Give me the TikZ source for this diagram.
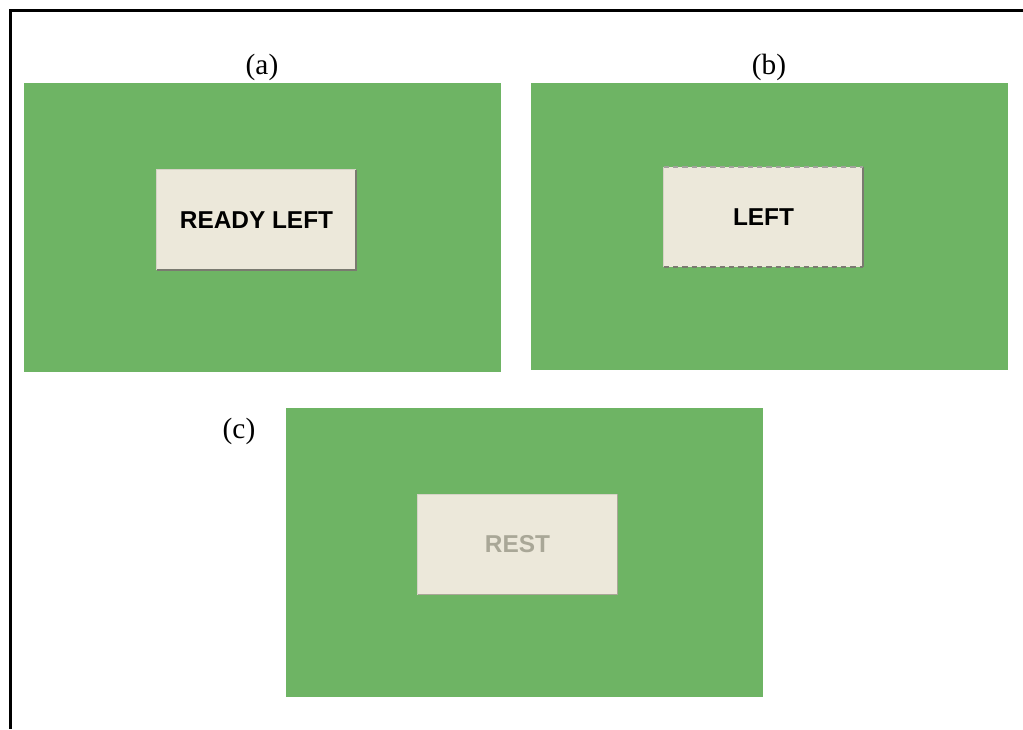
\documentclass[tikz,border=0pt]{standalone}
\usepackage{fontspec}
\setmainfont{Liberation Serif}
\newfontfamily\btnfont{Liberation Sans}
\definecolor{panelgreen}{HTML}{6EB464}
\definecolor{btnfill}{HTML}{ECE8DA}
\definecolor{btnlight}{HTML}{D6D3C6}
\definecolor{btndark}{HTML}{7A7A70}
\definecolor{restgray}{HTML}{A9A797}
\begin{document}
\begin{tikzpicture}[x=0.75pt,y=-0.75pt,
  panel/.style={fill=panelgreen,draw=none,inner sep=0pt,minimum width=477*0.75pt,minimum height=289*0.75pt},
  btn/.style={fill=btnfill,draw=none,inner sep=0pt,minimum width=199*0.75pt,minimum height=100*0.75pt,font=\btnfont\bfseries\fontsize{18.3pt}{20pt}\selectfont},
  lab/.style={font=\fontsize{22pt}{24pt}\selectfont,inner sep=0pt}]
\useasboundingbox (0,0) rectangle (1023,729);
\fill[white] (0,0) rectangle (1023,729);
\draw[line width=2.25pt] (1023,10) -- (10,10) -- (10,729);
% panels
\node[panel,anchor=north west] (pa) at (24,83) {};
\node[panel,anchor=north west,minimum height=287*0.75pt] (pb) at (531,83) {};
\node[panel,anchor=north west] (pc) at (286,408) {};
% labels
\node[lab] (la) at (262,67) {(a)};
\node[lab] (lb) at (769,67) {(b)};
\node[lab] (lc) at (239,431) {(c)};
% buttons
\node[btn] (ba) at (256.5,220) {READY LEFT};
\draw[btnlight,line width=0.75pt] (ba.south west) -- (ba.north west) -- (ba.north east);
\draw[btndark,line width=1.2pt] (ba.north east) -- (ba.south east) -- (ba.south west);
\node[btn] (bb) at (763.5,217) {LEFT};
\draw[btnlight,line width=0.75pt] (bb.south west) -- (bb.north west);
\draw[btndark,line width=1.2pt] (bb.north east) -- (bb.south east);
\draw[btndark!70,line width=1.5pt,dash pattern=on 4pt off 3pt] (bb.north west) -- (bb.north east);
\draw[btndark,line width=1.5pt,dash pattern=on 4pt off 3pt] (bb.south west) -- (bb.south east);
\node[btn,text=restgray] (bc) at (517.5,544.5) {REST};
\draw[btnlight,line width=0.75pt] (bc.south west) -- (bc.north west) -- (bc.north east);
\draw[restgray,line width=1pt] (bc.north east) -- (bc.south east) -- (bc.south west);
\end{tikzpicture}
\end{document}
